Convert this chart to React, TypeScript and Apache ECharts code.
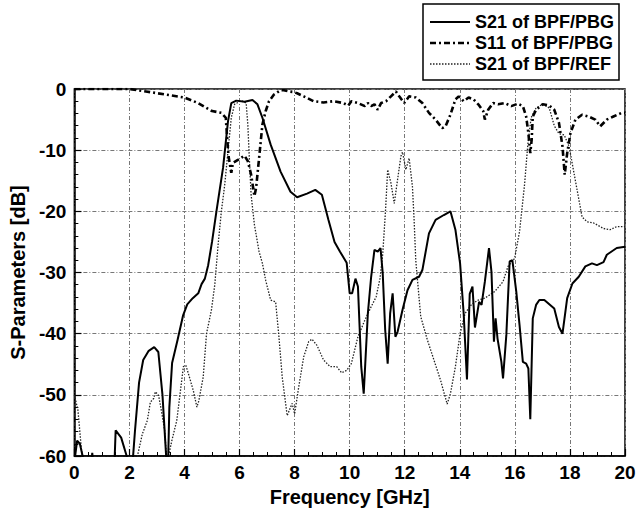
import React, { useEffect, useRef } from "react";
import * as echarts from "echarts";

const xTicks = [0, 2, 4, 6, 8, 10, 12, 14, 16, 18, 20];
const yTicks = [0, -10, -20, -30, -40, -50, -60];

const seriesNames = ["S21 of BPF/PBG", "S11 of BPF/PBG", "S21 of BPF/REF"];

const s21Pbg: [number, number][] = [
  [0, -61], [0.1, -57.5], [0.2, -58], [0.3, -60], [0.37, -62], [0.6, -62], [0.65, -59.5], [0.7, -62],
  [1.45, -62], [1.5, -55.8], [1.7, -57], [1.9, -60], [2.0, -64], [2.1, -62], [2.2, -56], [2.35, -48],
  [2.5, -44.3], [2.7, -42.8], [2.9, -42.2], [3.05, -43], [3.2, -50], [3.36, -62], [3.4, -62], [3.45, -52],
  [3.55, -44.8], [3.75, -41], [3.95, -37], [4.1, -35.2], [4.3, -34.2], [4.5, -33.4], [4.62, -31.9],
  [4.74, -31], [4.86, -28.8], [5.0, -25], [5.16, -20], [5.4, -12.9], [5.58, -5.3], [5.7, -2.3],
  [5.88, -1.9], [6.18, -2.1], [6.47, -1.8], [6.65, -2.5], [6.83, -4.7], [7.13, -9.1], [7.49, -13.5],
  [7.85, -16.8], [8.09, -17.7], [8.45, -17.1], [8.75, -16.5], [8.99, -17.3], [9.23, -21.4], [9.45, -25],
  [9.65, -26.6], [9.89, -28.4], [10.0, -33.4], [10.09, -33.4], [10.21, -31], [10.3, -32.3], [10.42, -45.4],
  [10.51, -49.8], [10.66, -36.7], [10.78, -30.7], [10.9, -26.3], [11.02, -26.6], [11.12, -26], [11.2, -30.1],
  [11.29, -39.4], [11.38, -44.9], [11.47, -36.7], [11.56, -33.4], [11.66, -40.5], [11.74, -39.7],
  [11.92, -36.1], [12.1, -32.9], [12.28, -31.2], [12.52, -30.7], [12.64, -29.6], [12.88, -23.6],
  [13.12, -21.4], [13.42, -20.6], [13.66, -20], [13.84, -23], [14.01, -28.5], [14.14, -36.7], [14.26, -47.5],
  [14.36, -33.5], [14.46, -32.3], [14.55, -39], [14.7, -34.8], [14.79, -35.3], [14.91, -31.5], [15.06, -26],
  [15.15, -29.9], [15.24, -41.3], [15.3, -37.5], [15.37, -40.8], [15.51, -44.6], [15.57, -47.3],
  [15.69, -40.2], [15.81, -28.2], [15.91, -28], [16.05, -33.1], [16.17, -38.6], [16.29, -44.6],
  [16.41, -44.9], [16.49, -45.7], [16.56, -54], [16.65, -37.5], [16.77, -35.3], [16.89, -34.5],
  [17.07, -34.5], [17.43, -35.9], [17.6, -38.9], [17.73, -40], [17.9, -34.2], [18.09, -31.8],
  [18.32, -30.7], [18.56, -29], [18.8, -28.5], [18.98, -28.8], [19.22, -28.3], [19.34, -27.1],
  [19.7, -26], [20, -25.8],
];

const s11Pbg: [number, number][] = [
  [0, 0], [1, 0], [2, 0], [2.6, -0.4], [3.3, -0.9], [4.0, -1.4], [4.5, -2.3], [5.0, -3.6], [5.34, -3.9],
  [5.5, -4.7], [5.55, -8], [5.6, -11], [5.7, -13.7], [5.76, -12.1], [5.94, -11.6], [6.18, -10.9],
  [6.3, -11.8], [6.42, -14], [6.54, -17.5], [6.6, -16.2], [6.71, -11.3], [6.83, -5.8], [6.95, -3.6],
  [7.07, -2], [7.25, -0.9], [7.49, -0.2], [7.61, -0.2], [7.79, -0.4], [7.97, -0.5], [8.09, -0.7],
  [8.33, -1.2], [8.69, -2], [9.05, -2.2], [9.41, -2], [9.77, -2.3], [9.95, -2.7], [10.06, -2],
  [10.3, -2.3], [10.55, -2.8], [10.66, -2.3], [10.78, -2.8], [10.9, -2.5], [11.02, -3.4], [11.14, -2.3],
  [11.32, -2], [11.5, -1.2], [11.68, -0.4], [11.8, -1.2], [11.98, -2.3], [12.16, -1.2], [12.4, -1.4],
  [12.64, -2.3], [12.88, -3.9], [13.12, -5], [13.36, -6.4], [13.48, -6.1], [13.66, -4.2], [13.84, -1.7],
  [13.96, -1.2], [14.14, -2], [14.32, -1.4], [14.5, -1.7], [14.67, -2.5], [14.85, -3.6], [14.91, -5],
  [15.03, -3.4], [15.21, -2.3], [15.39, -2.5], [15.63, -2.3], [15.87, -2.8], [16.11, -2.4], [16.29, -2.8],
  [16.41, -4.5], [16.49, -7.2], [16.56, -10.5], [16.61, -8.3], [16.65, -4.5], [16.77, -3.4], [17.01, -2.5],
  [17.25, -2.7], [17.43, -3.4], [17.6, -5.5], [17.73, -9.4], [17.81, -14], [17.9, -10.5], [18.02, -7.2],
  [18.2, -5], [18.44, -4.2], [18.68, -4.5], [18.92, -5], [19.1, -6.1], [19.34, -5], [19.58, -4.5],
  [19.88, -3.9], [20, -3.9],
];

const s21Ref: [number, number][] = [
  [0, -50], [0.13, -52.5], [0.25, -58.6], [0.35, -62], [2.25, -62], [2.29, -60], [2.47, -56.4],
  [2.65, -54.2], [2.76, -51.2], [2.88, -50.6], [2.94, -49.5], [3.06, -50.1], [3.18, -53.1], [3.28, -55.8],
  [3.34, -59.6], [3.38, -62], [3.42, -60], [3.54, -57.5], [3.72, -54.2], [3.84, -49.8], [3.96, -45.4],
  [4.05, -45.2], [4.14, -46.5], [4.32, -49.3], [4.45, -52], [4.52, -51], [4.68, -47.1], [4.8, -40],
  [4.98, -36.1], [5.1, -32], [5.22, -25.5], [5.34, -20], [5.46, -15.7], [5.58, -10.2], [5.7, -4.7],
  [5.82, -2.5], [6.06, -1.9], [6.24, -2.3], [6.3, -5.8], [6.36, -11.8], [6.42, -17.3], [6.54, -22.2],
  [6.71, -26.6], [6.83, -28.5], [6.95, -31.3], [7.13, -34.5], [7.31, -34.8], [7.43, -40.5], [7.55, -47.1],
  [7.73, -53.4], [7.91, -51.4], [8.0, -53.1], [8.15, -48.7], [8.33, -43.8], [8.51, -41.3], [8.63, -40.9],
  [8.81, -41.9], [9.05, -44.3], [9.29, -45.4], [9.53, -45.4], [9.71, -46.4], [9.89, -46], [10.06, -44.9],
  [10.3, -40.5], [10.55, -37.8], [10.78, -35.6], [10.96, -34], [11.1, -31], [11.2, -27], [11.3, -20],
  [11.38, -13.2], [11.5, -15.4], [11.62, -18.7], [11.74, -14.8], [11.86, -11], [11.92, -10.3],
  [12.04, -13.2], [12.16, -11.3], [12.28, -16], [12.34, -21.4], [12.4, -28], [12.58, -37.2], [12.82, -41],
  [13.06, -44.3], [13.3, -47.6], [13.54, -51.5], [13.66, -49.8], [13.84, -45.4], [14.01, -40],
  [14.19, -36.7], [14.43, -35.2], [14.67, -34.5], [14.91, -34.2], [15.27, -33.1], [15.57, -31.5],
  [15.75, -29], [15.99, -27.7], [16.17, -23.3], [16.35, -15.7], [16.47, -9.1], [16.59, -4.7], [16.77, -3.1],
  [17.01, -2.5], [17.25, -3.1], [17.43, -6], [17.6, -7.3], [17.79, -7.5], [17.97, -9.4], [18.08, -12.1],
  [18.26, -16.5], [18.44, -20.9], [18.62, -21.7], [18.86, -21.9], [19.22, -22.8], [19.46, -23],
  [19.7, -22.5], [20, -22.5],
];

const FONT = "'Liberation Sans', Arial, sans-serif";

const lineStyles = [
  { color: "#000", width: 2, type: "solid" as any },
  { color: "#000", width: 2.6, type: [6, 3, 2, 3] as any },
  { color: "#222", width: 1.3, type: [1.5, 1.5] as any },
];

export default function App() {
  const ref = useRef<HTMLDivElement>(null);
  useEffect(() => {
    if (!ref.current) return;
    const chart = echarts.init(ref.current, undefined, { renderer: "svg" });
    const gridLine = { show: true, lineStyle: { color: "#777", width: 1, type: [4, 2, 1, 2] } };

    const legendX = 423, legendY = 4, legendW = 196, legendH = 76;
    const rowY = [22, 43, 64];
    const legendChildren: any[] = [
      { type: "rect", shape: { x: legendX, y: legendY, width: legendW, height: legendH }, style: { fill: "#fff", stroke: "#000", lineWidth: 1.5 } },
    ];
    seriesNames.forEach((name, i) => {
      legendChildren.push({
        type: "line",
        shape: { x1: 430, y1: rowY[i], x2: 470, y2: rowY[i] },
        style: { stroke: lineStyles[i].color, lineWidth: lineStyles[i].width, lineDash: lineStyles[i].type === "solid" ? null : lineStyles[i].type },
      });
      legendChildren.push({
        type: "text",
        x: 475,
        y: rowY[i],
        style: { text: name, fontFamily: FONT, fontWeight: "bold", fontSize: 18, fill: "#000", verticalAlign: "middle", align: "left" },
      });
    });

    chart.setOption({
      animation: false,
      backgroundColor: "#fff",
      grid: { left: 68, right: 17, top: 89, bottom: 59, show: true, borderColor: "#000", borderWidth: 1.5, backgroundColor: "transparent" },
      graphic: [{ type: "group", children: legendChildren, z: 100 }],
      xAxis: {
        type: "value",
        min: 0,
        max: 20,
        interval: 2,
        name: "Frequency [GHz]",
        nameLocation: "middle",
        nameGap: 31,
        nameTextStyle: { fontFamily: FONT, fontWeight: "bold", fontSize: 20, color: "#000" },
        axisLine: { show: true, onZero: false, lineStyle: { color: "#000", width: 1.5 } },
        axisTick: { show: true, inside: true, length: 7, lineStyle: { color: "#000", width: 1.2 } },
        minorTick: { show: true, splitNumber: 4, length: 4, lineStyle: { color: "#000", width: 1 } },
        axisLabel: {
          fontFamily: FONT, fontWeight: "bold", fontSize: 19, color: "#000", margin: 7,
          formatter: (v: number) => (xTicks.includes(v) ? String(v) : ""),
        },
        splitLine: gridLine,
      },
      yAxis: {
        type: "value",
        min: -60,
        max: 0,
        interval: 10,
        name: "S-Parameters [dB]",
        nameLocation: "middle",
        nameGap: 32,
        nameTextStyle: { fontFamily: FONT, fontWeight: "bold", fontSize: 20, color: "#000" },
        axisLine: { show: true, onZero: false, lineStyle: { color: "#000", width: 1.5 } },
        axisTick: { show: true, inside: true, length: 7, lineStyle: { color: "#000", width: 1.2 } },
        minorTick: { show: true, splitNumber: 5, length: 4, lineStyle: { color: "#000", width: 1 } },
        axisLabel: {
          fontFamily: FONT, fontWeight: "bold", fontSize: 19, color: "#000", margin: 8,
          formatter: (v: number) => (yTicks.includes(v) ? String(v) : ""),
        },
        splitLine: gridLine,
      },
      series: [
        { name: seriesNames[0], type: "line", data: s21Pbg, showSymbol: false, symbol: "none", lineStyle: lineStyles[0], z: 4 },
        { name: seriesNames[1], type: "line", data: s11Pbg, showSymbol: false, symbol: "none", lineStyle: lineStyles[1], z: 3 },
        { name: seriesNames[2], type: "line", data: s21Ref, showSymbol: false, symbol: "none", lineStyle: lineStyles[2], z: 2 },
      ],
    });
    return () => chart.dispose();
  }, []);
  return <div ref={ref} style={{ position: "fixed", left: 0, top: 0, width: 642, height: 515 }} />;
}
